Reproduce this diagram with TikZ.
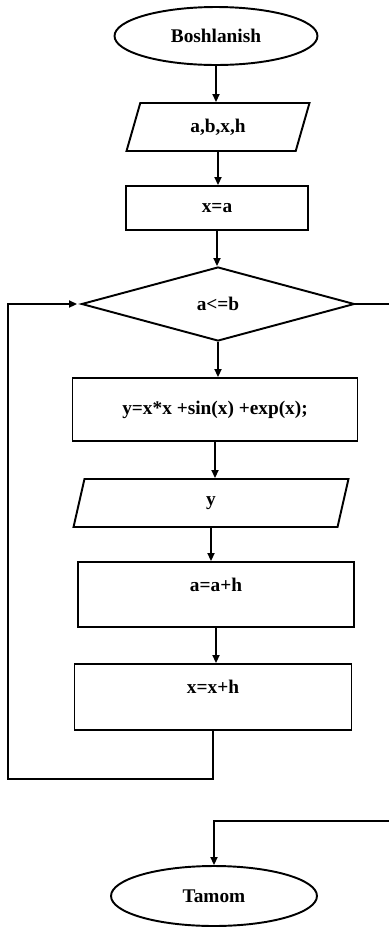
\documentclass[tikz,border=0pt]{standalone}
\usepackage{fontspec}
\setmainfont{Liberation Serif}
\usetikzlibrary{arrows.meta,shapes.geometric}

\begin{document}
\begin{tikzpicture}[x=0.02cm,y=-0.02cm,font=\fontsize{11}{13}\selectfont\bfseries,
   >={Triangle[length=1.6mm,width=1.4mm]},line width=1.1pt,
   term/.style={draw,ellipse,inner sep=0pt},
   io/.style={draw,trapezium,trapezium left angle=50,trapezium right angle=130,
      trapezium stretches body,inner sep=0pt,minimum height=0.96cm},
   proc/.style={draw,rectangle,inner sep=0pt},
   upper/.style={text height=0.3cm,text depth=0.44cm},
   cond/.style={draw,diamond,inner sep=0pt,aspect=3.69}]
  \useasboundingbox (0,0) rectangle (389,927);
  \clip (0,0) rectangle (389,927);
  \node[term,minimum width=4.06cm,minimum height=1.16cm] (beg) at (216,36) {Boshlanish};
  \node[io,minimum width=3.66cm] (inp) at (218,127) {a,b,x,h};
  \node[proc,minimum width=3.64cm,minimum height=0.88cm] (init) at (217,208) {x=a};
  \node[cond,minimum width=5.46cm,minimum height=1.48cm] (test) at (218,304) {a<=b};
  \node[proc,minimum width=5.7cm,minimum height=1.26cm] (calc) at (215,409.5) {y=x*x +sin(x) +exp(x);};
  \node[io,minimum width=5.5cm] (out) at (211,503) {y};
  \node[proc,upper,minimum width=5.52cm,minimum height=1.3cm] (inca) at (216,594.5) {a=a+h};
  \node[proc,upper,minimum width=5.54cm,minimum height=1.32cm] (incx) at (213,697) {x=x+h};
  \node[term,minimum width=4.12cm,minimum height=1.2cm] (fin) at (214,896) {Tamom};
  \coordinate (back) at (8,779);
  \coordinate (exit) at (398,821);
  % main chain
  \draw[->] (beg) -- (beg |- inp.north);
  \draw[->] (inp) -- (inp |- init.north);
  \draw[->] (init) -- (init |- test.north);
  \draw[->] (test) -- (test |- calc.north);
  \draw[->] (calc) -- (calc |- out.north);
  \draw[->] (out) -- (out |- inca.north);
  \draw[->] (inca) -- (inca |- incx.north);
  % loop back and exit
  \draw[->,shorten >=2pt] (incx.south) |- (back) |- (test.west);
  \draw[->] (test.east) -| (exit) -| (fin.north);
\end{tikzpicture}
\end{document}
